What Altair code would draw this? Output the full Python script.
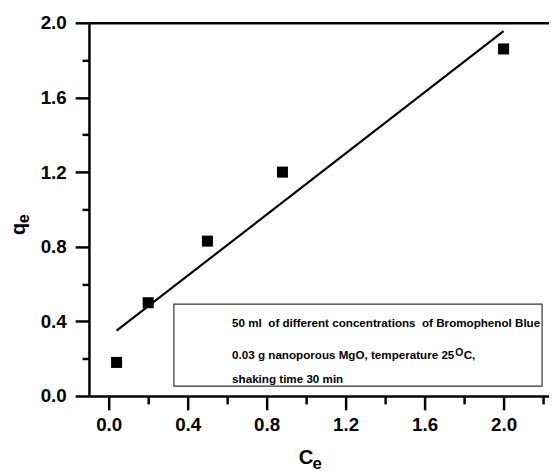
import altair as alt
import pandas as pd

# ---- data ----
ce = [0.04, 0.2, 0.5, 0.88, 2.0]
qe = [0.18, 0.5, 0.83, 1.2, 1.86]
fit_x = [0.04, 2.0]
fit_y = [0.35, 1.955]
x_ticks = [0.0, 0.2, 0.4, 0.6, 0.8, 1.0, 1.2, 1.4, 1.6, 1.8, 2.0, 2.2]
y_ticks = [0.0, 0.2, 0.4, 0.6, 0.8, 1.0, 1.2, 1.4, 1.6, 1.8, 2.0]
legend_lines = [
    "50 ml\u00a0 of different concentrations\u00a0 of Bromophenol Blue",
    "0.03 g nanoporous MgO, temperature 25",
    "O",
    "C,",
    "shaking time 30 min",
]

pts = pd.DataFrame({"Ce": ce, "qe": qe})
fit = pd.DataFrame({"Ce": fit_x, "qe": fit_y})
one = pd.DataFrame({"k": [0]})

FONT = "Liberation Sans"
W, H = 466, 378

xscale = alt.Scale(domain=[-0.1, 2.23], nice=False, zero=False)
yscale = alt.Scale(domain=[0, 2.0], nice=False, zero=False)

major = "abs(datum.value/0.4 - round(datum.value/0.4)) < 0.01"

x_axis = alt.Axis(
    values=x_ticks, orient="bottom", title=None, grid=False,
    labelExpr=f"{major} ? format(datum.value, '.1f') : ''",
    tickSize={"condition": {"test": major, "value": 14}, "value": 8},
    labelPadding=6, labelFlush=False, labelOverlap=False,
)
y_axis = alt.Axis(
    values=y_ticks, orient="left", title=None, grid=False,
    labelExpr=f"{major} ? format(datum.value, '.1f') : ''",
    tickSize={"condition": {"test": major, "value": 14}, "value": 7},
    labelPadding=9, labelFlush=False, labelOverlap=False,
)
top_axis = alt.Axis(orient="top", title=None, ticks=False, labels=False, grid=False)

points = alt.Chart(pts).mark_square(size=125, color="black", opacity=1).encode(
    x=alt.X("Ce:Q", scale=xscale, axis=x_axis),
    y=alt.Y("qe:Q", scale=yscale, axis=y_axis),
)
line = alt.Chart(fit).mark_line(color="black", strokeWidth=2.2).encode(
    x=alt.X("Ce:Q", scale=xscale, axis=top_axis),
    y=alt.Y("qe:Q", scale=yscale, axis=y_axis),
)

box = alt.Chart(one).mark_rect(fill="white", stroke="#333333", strokeWidth=1.2).encode(
    x=alt.value(86), x2=alt.value(459), y=alt.value(285), y2=alt.value(368)
)

def txt(s, x, y, size, angle=0, baseline="alphabetic"):
    return alt.Chart(one).mark_text(
        text=s, font=FONT, fontSize=size, fontWeight="bold", color="black",
        align="left", baseline=baseline, angle=angle,
    ).encode(x=alt.value(x), y=alt.value(y))

fs = 11.8
w2 = 19.116 * fs
texts = [
    txt(legend_lines[0], 145, 308.5, fs),
    txt(legend_lines[1], 145, 341, fs),
    txt(legend_lines[2], 145 + w2 + 0.5, 337, 10.5),
    txt(legend_lines[3], 145 + w2 + 9, 341, fs),
    txt(legend_lines[4], 145, 364.5, fs),
    # y title q_e (rotated)
    txt("q", -65, 215, 20, angle=270),
    txt("e", -61, 203, 16.5, angle=270),
    # x title C_e
    txt("C", 212.5, 446.7, 20.5),
    txt("e", 226.5, 452, 17),
]

chart = alt.layer(points, line, box, *texts).resolve_axis(x="independent").properties(
    width=W, height=H,
    autosize=alt.AutoSizeParams(type="none"),
    padding={"left": 82, "top": 12, "right": 0, "bottom": 77},
).configure_view(stroke=None).configure_axis(
    domainColor="black", domainWidth=2.5, tickColor="black", tickWidth=2.5,
    labelFont=FONT, labelFontSize=19, labelFontWeight="bold", labelColor="black",
)

chart.save("out.html", embed_options={"renderer": "svg", "actions": False})
